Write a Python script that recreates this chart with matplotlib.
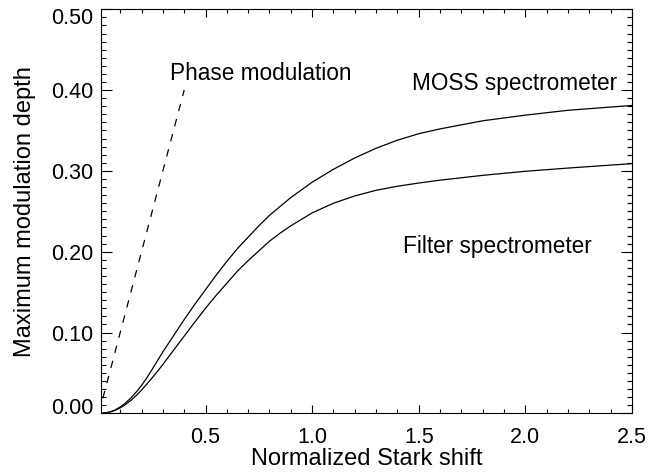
import matplotlib
matplotlib.use('Agg')
import matplotlib.pyplot as plt
import matplotlib.transforms as mtransforms
from matplotlib.ticker import MultipleLocator, FormatStrFormatter

plt.rcParams['font.family'] = ['Liberation Sans', 'DejaVu Sans']

# データ
shift = [0.01, 0.025, 0.05, 0.075, 0.10, 0.125, 0.15, 0.175, 0.20, 0.225,
         0.25, 0.275, 0.30, 0.35, 0.40, 0.45, 0.50, 0.55, 0.60, 0.65,
         0.70, 0.75, 0.80, 0.85, 0.90, 1.00, 1.10, 1.20, 1.30, 1.40,
         1.50, 1.60, 1.80, 2.00, 2.20, 2.50]
moss = [0.0000, 0.0003, 0.0015, 0.0040, 0.0078, 0.0128, 0.0190, 0.0263, 0.0345, 0.0440,
        0.0545, 0.0652, 0.0760, 0.0960, 0.1160, 0.1350, 0.1530, 0.1710, 0.1880, 0.2040,
        0.2180, 0.2320, 0.2450, 0.2560, 0.2670, 0.2860, 0.3020, 0.3160, 0.3280, 0.3380,
        0.3460, 0.3520, 0.3620, 0.3690, 0.3750, 0.3810]
filt = [0.0000, 0.0003, 0.0014, 0.0036, 0.0068, 0.0110, 0.0160, 0.0220, 0.0288, 0.0362,
        0.0440, 0.0520, 0.0605, 0.0780, 0.0955, 0.1130, 0.1300, 0.1460, 0.1610, 0.1760,
        0.1890, 0.2010, 0.2130, 0.2230, 0.2320, 0.2480, 0.2600, 0.2690, 0.2760, 0.2810,
        0.2850, 0.2885, 0.2945, 0.2995, 0.3035, 0.3090]
phase_x = [0.0, 0.40]
phase_y = [0.0, 0.40]

xticks = [0.5, 1.0, 1.5, 2.0, 2.5]
yticks = [0.0, 0.1, 0.2, 0.3, 0.4, 0.5]
fs_tick = 15.5
fs_label = 17
fs_text = 16.3

fig = plt.figure(figsize=(6.48, 4.76), dpi=100)
ax = fig.add_axes([0.1559, 0.1317, 0.8194, 0.8488])

ax.plot(shift, moss, color='black', lw=0.9)
ax.plot(shift, filt, color='black', lw=0.9)
ax.plot(phase_x, phase_y, color='black', lw=0.9, linestyle=(0, (6, 6.5)))

ax.set_xlim(0.01, 2.5)
ax.set_ylim(0.0, 0.5)

ax.set_xticks(xticks)
ax.set_yticks(yticks)
ax.xaxis.set_minor_locator(MultipleLocator(0.1))
ax.yaxis.set_minor_locator(MultipleLocator(0.01))
ax.xaxis.set_major_formatter(FormatStrFormatter('%.1f'))
ax.yaxis.set_major_formatter(FormatStrFormatter('%.2f'))

ax.tick_params(which='both', direction='in', top=True, right=True,
               width=0.8, labelsize=fs_tick, colors='black')
ax.tick_params(axis='x', which='major', length=5.8, pad=10)
ax.tick_params(axis='x', which='minor', length=2.9)
ax.tick_params(axis='y', which='major', length=7.6, pad=5.5)
ax.tick_params(axis='y', which='minor', length=3.8)
for sp in ax.spines.values():
    sp.set_linewidth(0.8)

# 端のラベルを内側にずらす
yt = ax.yaxis.get_major_ticks()
up = mtransforms.ScaledTranslation(0, 7 / 100, fig.dpi_scale_trans)
down = mtransforms.ScaledTranslation(0, -7 / 100, fig.dpi_scale_trans)
yt[0].label1.set_transform(yt[0].label1.get_transform() + up)
yt[-1].label1.set_transform(yt[-1].label1.get_transform() + down)

ax.set_xlabel('Normalized Stark shift', fontsize=fs_label, labelpad=0)
ax.set_ylabel('Maximum modulation depth', fontsize=fs_label, labelpad=11)

ax.text(0.333, 0.4125, 'Phase modulation', fontsize=fs_text, va='baseline', ha='left')
ax.text(1.468, 0.400, 'MOSS spectrometer', fontsize=fs_text, va='baseline', ha='left')
ax.text(1.426, 0.199, 'Filter spectrometer', fontsize=fs_text, va='baseline', ha='left')

fig.savefig('out.png', dpi=100)
plt.close(fig)
